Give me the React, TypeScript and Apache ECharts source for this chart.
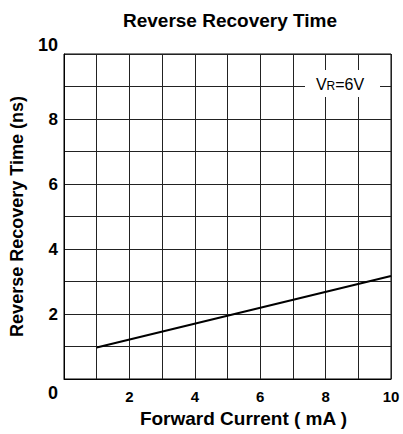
import React, { useEffect, useRef } from "react";
import * as echarts from "echarts";

const titleText = "Reverse Recovery Time";
const xName = "Forward Current ( mA )";
const yName = "Reverse Recovery Time (ns)";
const xLabels = [2, 4, 6, 8, 10];
const yLabels = [2, 4, 6, 8];
const curveX = [1, 10];
const curveY = [0.97, 3.17];

export default function App() {
  const ref = useRef<HTMLDivElement>(null);
  useEffect(() => {
    if (!ref.current) return;
    const chart = echarts.init(ref.current, undefined, { renderer: "svg" });
    const font = "Liberation Sans, Arial, sans-serif";
    chart.setOption({
      animation: false,
      backgroundColor: "#fff",
      title: {
        text: titleText,
        left: 225,
        textAlign: "center",
        top: 6,
        textStyle: { fontFamily: font, fontWeight: "bold", fontSize: 19, color: "#000" },
      },
      grid: {
        left: 64,
        right: 12,
        top: 54,
        bottom: 55,
        show: true,
        borderColor: "#000",
        borderWidth: 1,
        backgroundColor: "transparent",
      },
      xAxis: {
        type: "value",
        min: 0,
        max: 10,
        interval: 1,
        name: xName,
        nameLocation: "middle",
        nameGap: 29,
        nameTextStyle: { fontFamily: font, fontWeight: "bold", fontSize: 19, color: "#000", padding: [0, 0, 0, 32] },
        axisLine: { show: true, lineStyle: { color: "#000", width: 1 } },
        axisTick: { show: false },
        splitLine: { show: true, lineStyle: { color: "#222", width: 1 } },
        axisLabel: {
          margin: 10,
          fontFamily: font,
          fontWeight: "bold",
          fontSize: 15,
          color: "#000",
          formatter: (v: number) => (xLabels.includes(v) ? String(v) : ""),
        },
      },
      yAxis: {
        type: "value",
        min: 0,
        max: 10,
        interval: 1,
        name: yName,
        nameLocation: "middle",
        nameGap: 38,
        nameRotate: 90,
        nameTextStyle: { fontFamily: font, fontWeight: "bold", fontSize: 18, color: "#000" },
        axisLine: { show: true, lineStyle: { color: "#000", width: 1 } },
        axisTick: { show: false },
        splitLine: { show: true, lineStyle: { color: "#222", width: 1 } },
        axisLabel: {
          margin: 6,
          color: "#000",
          formatter: (v: number) => {
            if (v === 10) return "{t|10}";
            if (v === 0) return "{b|0}";
            return yLabels.includes(v) ? "{n|" + v + "}" : "";
          },
          rich: {
            n: { fontFamily: font, fontWeight: "bold", fontSize: 17, color: "#000" },
            t: { fontFamily: font, fontWeight: "bold", fontSize: 18, color: "#000", padding: [0, 0, 18, 0] },
            b: { fontFamily: font, fontWeight: "bold", fontSize: 18, color: "#000", padding: [28, 0, 0, 0] },
          },
        },
      },
      series: [
        {
          type: "line",
          data: curveX.map((x, i) => [x, curveY[i]]),
          showSymbol: false,
          lineStyle: { color: "#000", width: 2 },
          z: 5,
        },
      ],
      graphic: [
        {
          type: "rect",
          z: 100,
          shape: { x: 305, y: 70, width: 75, height: 27 },
          style: { fill: "#fff", stroke: null },
        },
        {
          type: "text",
          z: 101,
          x: 340,
          y: 84,
          style: {
            text: "{a|V}{s|R}{a|=6V}",
            align: "center",
            verticalAlign: "middle",
            rich: {
              a: { fontFamily: font, fontSize: 16, fill: "#000", verticalAlign: "bottom" },
              s: { fontFamily: font, fontSize: 12, fill: "#000", verticalAlign: "bottom" },
            },
          },
        },
      ],
    });
    return () => chart.dispose();
  }, []);
  return <div ref={ref} style={{ position: "absolute", left: 0, top: 0, width: 403, height: 434 }} />;
}
